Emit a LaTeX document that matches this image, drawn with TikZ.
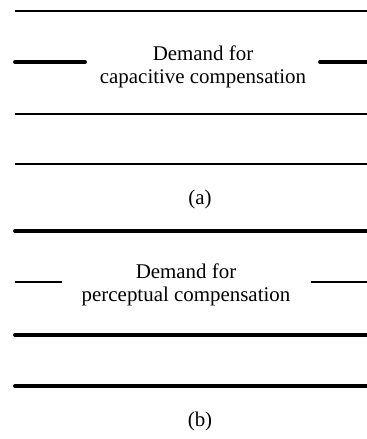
\documentclass[tikz,border=0pt]{standalone}
\usepackage{fontspec}
\setmainfont{Liberation Serif}
\begin{document}
\begin{tikzpicture}[x=1bp,y=-1bp,
  thinline/.style={line width=1.4bp},
  thickline/.style={line width=3.8bp,line cap=round},
  lbl/.style={font=\fontsize{21}{23.5}\selectfont,align=center,inner sep=0pt}]
\useasboundingbox (0,0) rectangle (366,439);
% (a)
\coordinate (a1l) at (15,11);  \coordinate (a1r) at (370,11);
\coordinate (a2l) at (15,62);  \coordinate (a2m) at (85,62);
\coordinate (a2n) at (320,62); \coordinate (a2r) at (370,62);
\coordinate (a3l) at (15,114); \coordinate (a3r) at (370,114);
\coordinate (a4l) at (15,164); \coordinate (a4r) at (370,164);
\draw[thinline] (a1l) -- (a1r);
\draw[thickline] (a2l) -- (a2m);
\draw[thickline] (a2n) -- (a2r);
\draw[thinline] (a3l) -- (a3r);
\draw[thinline] (a4l) -- (a4r);
\node[lbl] (ta) at (203,67) {Demand for\\capacitive compensation};
\node[lbl] (ca) at (200,199) {(a)};
% (b)
\coordinate (b1l) at (15,231); \coordinate (b1r) at (370,231);
\coordinate (b2l) at (15,282); \coordinate (b2m) at (62,282);
\coordinate (b2n) at (311,282); \coordinate (b2r) at (370,282);
\coordinate (b3l) at (15,335); \coordinate (b3r) at (370,335);
\coordinate (b4l) at (15,386); \coordinate (b4r) at (370,386);
\draw[thickline] (b1l) -- (b1r);
\draw[thinline] (b2l) -- (b2m);
\draw[thinline] (b2n) -- (b2r);
\draw[thickline] (b3l) -- (b3r);
\draw[thickline] (b4l) -- (b4r);
\node[lbl] (tb) at (186,285) {Demand for\\perceptual compensation};
\node[lbl] (cb) at (200,421) {(b)};
\end{tikzpicture}
\end{document}
